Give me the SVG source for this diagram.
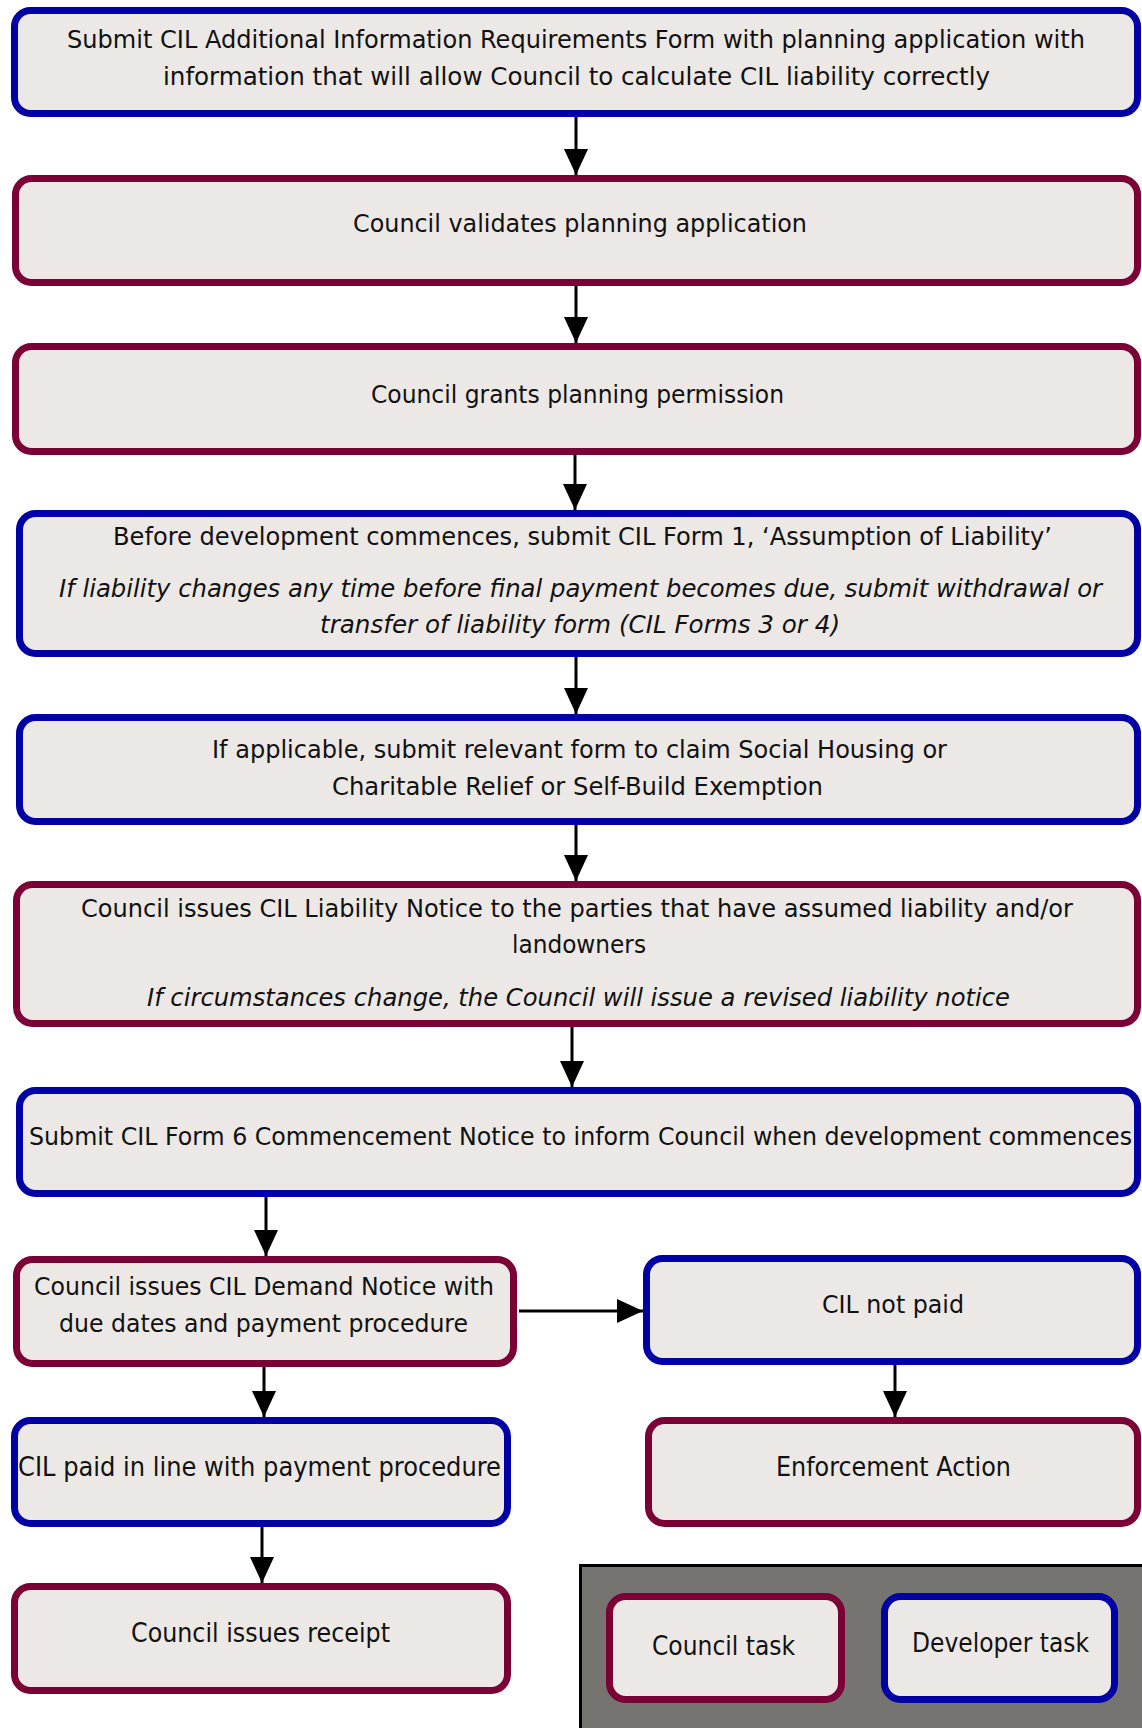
<svg xmlns="http://www.w3.org/2000/svg" width="1142" height="1728" viewBox="0 0 1142 1728">
<style>
.box{fill:#ECE8E5;stroke-width:7}
.dev{stroke:#0000A4}
.cou{stroke:#7A0036}
text{font-family:"DejaVu Sans Condensed","DejaVu Sans",sans-serif;font-size:25px;fill:#111;text-anchor:middle}
.it{font-style:italic}
.big{font-size:26px}
.conn line{stroke:#000;stroke-width:3}
</style>
<defs>
<marker id="ah" viewBox="0 0 26 24" refX="26" refY="12" markerWidth="26" markerHeight="24" markerUnits="userSpaceOnUse" orient="auto">
<path d="M0,0 L26,12 L0,24 z" fill="#000"/>
</marker>
</defs>
<rect width="1142" height="1728" fill="#fff"/>

<g id="n1">
<rect class="box dev" x="14.5" y="10.5" width="1123" height="103" rx="16"/>
<text x="576" y="48" textLength="1018" lengthAdjust="spacingAndGlyphs">Submit CIL Additional Information Requirements Form with planning application with</text>
<text x="576.5" y="85" textLength="827" lengthAdjust="spacingAndGlyphs">information that will allow Council to calculate CIL liability correctly</text>
</g>
<g id="n2">
<rect class="box cou" x="15.5" y="178.5" width="1122" height="104" rx="16"/>
<text x="580" y="232" textLength="454" lengthAdjust="spacingAndGlyphs">Council validates planning application</text>
</g>
<g id="n3">
<rect class="box cou" x="15.5" y="346.5" width="1122" height="105" rx="16"/>
<text x="577.5" y="403" textLength="413" lengthAdjust="spacingAndGlyphs">Council grants planning permission</text>
</g>
<g id="n4">
<rect class="box dev" x="19.5" y="513.5" width="1118" height="140" rx="16"/>
<text x="582.5" y="545" textLength="939" lengthAdjust="spacingAndGlyphs">Before development commences, submit CIL Form 1, ‘Assumption of Liability’</text>
<text class="it" x="580.5" y="597" textLength="1043" lengthAdjust="spacingAndGlyphs">If liability changes any time before final payment becomes due, submit withdrawal or</text>
<text class="it" x="580" y="633" textLength="520" lengthAdjust="spacingAndGlyphs">transfer of liability form (CIL Forms 3 or 4)</text>
</g>
<g id="n5">
<rect class="box dev" x="19.5" y="717.5" width="1118" height="104" rx="16"/>
<text x="579.5" y="758" textLength="735" lengthAdjust="spacingAndGlyphs">If applicable, submit relevant form to claim Social Housing or</text>
<text x="577.5" y="795" textLength="491" lengthAdjust="spacingAndGlyphs">Charitable Relief or Self-Build Exemption</text>
</g>
<g id="n6">
<rect class="box cou" x="16.5" y="884.5" width="1121" height="139" rx="16"/>
<text x="577" y="917" textLength="992" lengthAdjust="spacingAndGlyphs">Council issues CIL Liability Notice to the parties that have assumed liability and/or</text>
<text x="579" y="953" textLength="134" lengthAdjust="spacingAndGlyphs">landowners</text>
<text class="it" x="578.5" y="1006" textLength="863" lengthAdjust="spacingAndGlyphs">If circumstances change, the Council will issue a revised liability notice</text>
</g>
<g id="n7">
<rect class="box dev" x="19.5" y="1090.5" width="1118" height="103" rx="16"/>
<text x="580.5" y="1145" textLength="1103" lengthAdjust="spacingAndGlyphs">Submit CIL Form 6 Commencement Notice to inform Council when development commences</text>
</g>
<g id="n8">
<rect class="box cou" x="16.5" y="1259.5" width="497" height="104" rx="16"/>
<text x="264" y="1295" textLength="460" lengthAdjust="spacingAndGlyphs">Council issues CIL Demand Notice with</text>
<text x="263.5" y="1332" textLength="409" lengthAdjust="spacingAndGlyphs">due dates and payment procedure</text>
</g>
<g id="n9">
<rect class="box dev" x="646.5" y="1258.5" width="491" height="103" rx="16"/>
<text x="893" y="1313" textLength="142" lengthAdjust="spacingAndGlyphs">CIL not paid</text>
</g>
<g id="n10">
<rect class="box cou" x="648.5" y="1420.5" width="489" height="103" rx="16"/>
<text class="big" x="893.5" y="1476" textLength="235" lengthAdjust="spacingAndGlyphs">Enforcement Action</text>
</g>
<g id="n11">
<rect class="box dev" x="14.5" y="1420.5" width="493" height="103" rx="16"/>
<text class="big" x="259.5" y="1476" textLength="483" lengthAdjust="spacingAndGlyphs">CIL paid in line with payment procedure</text>
</g>
<g id="n12">
<rect class="box cou" x="14.5" y="1586.5" width="493" height="104" rx="16"/>
<text class="big" x="260.5" y="1642" textLength="259" lengthAdjust="spacingAndGlyphs">Council issues receipt</text>
</g>
<g id="legend">
<rect x="580.5" y="1565.5" width="600" height="200" fill="#767471" stroke="#000" stroke-width="3"/>
<g id="legend-council">
<rect class="box cou" x="609.5" y="1596.5" width="232" height="103" rx="16"/>
<text class="big" x="723.5" y="1655" textLength="143" lengthAdjust="spacingAndGlyphs">Council task</text>
</g>
<g id="legend-developer">
<rect class="box dev" x="884.5" y="1596.5" width="230" height="103" rx="16"/>
<text class="big" x="1000.5" y="1652" textLength="177" lengthAdjust="spacingAndGlyphs">Developer task</text>
</g>
</g>

<g id="connectors" class="conn">
<line x1="576" y1="117" x2="576" y2="175" marker-end="url(#ah)"/>
<line x1="576" y1="286" x2="576" y2="343" marker-end="url(#ah)"/>
<line x1="575" y1="455" x2="575" y2="510" marker-end="url(#ah)"/>
<line x1="576" y1="657" x2="576" y2="714" marker-end="url(#ah)"/>
<line x1="576" y1="825" x2="576" y2="881" marker-end="url(#ah)"/>
<line x1="572" y1="1027" x2="572" y2="1087" marker-end="url(#ah)"/>
<line x1="266" y1="1197" x2="266" y2="1256" marker-end="url(#ah)"/>
<line x1="519" y1="1311" x2="643" y2="1311" marker-end="url(#ah)"/>
<line x1="895" y1="1365" x2="895" y2="1417" marker-end="url(#ah)"/>
<line x1="264" y1="1367" x2="264" y2="1417" marker-end="url(#ah)"/>
<line x1="262" y1="1527" x2="262" y2="1583" marker-end="url(#ah)"/>
</g>
</svg>
